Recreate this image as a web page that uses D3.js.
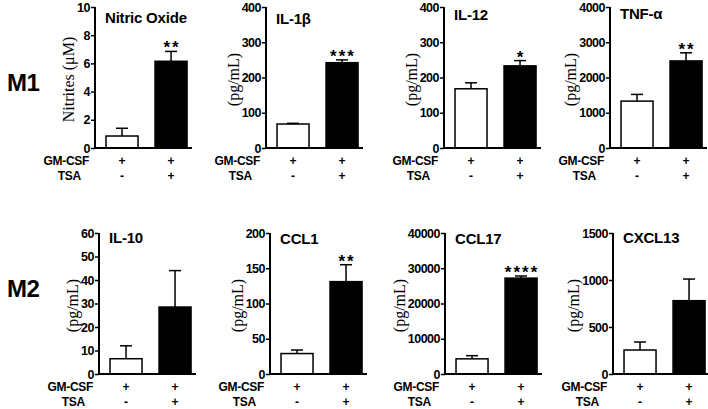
<!DOCTYPE html>
<html><head><meta charset="utf-8">
<script src="https://cdn.jsdelivr.net/npm/d3@7"></script>
<style>body{margin:0;background:#fff}svg{display:block}</style>
</head><body>
<svg id="c" width="708" height="409"></svg>
<script>
// ---- data ----
const rowLabels = ["M1", "M2"];
const titles = ["Nitric Oxide", "IL-1β", "IL-12", "TNF-α", "IL-10", "CCL1", "CCL17", "CXCL13"];
const yLabels = ["Nitrites (μM)", "(pg/mL)", "(pg/mL)", "(pg/mL)", "(pg/mL)", "(pg/mL)", "(pg/mL)", "(pg/mL)"];
const groups = ["ctrl", "tsa"];
const gmcsfSigns = ["+", "+"];
const tsaSigns = ["-", "+"];
const means = [[0.85, 6.15], [68, 242], [168, 233], [1330, 2470], [6.5, 28.5], [29, 131], [4300, 27200], [255, 780]];
const errors = [[0.55, 0.7], [2, 8], [17, 15], [190, 230], [5.5, 15.5], [5, 24], [900, 600], [85, 230]];
const stars = ["**", "***", "*", "**", "", "**", "****", ""];
const yMax = [10, 400, 400, 4000, 60, 200, 40000, 1500];
const tickStep = [2, 100, 100, 1000, 10, 50, 10000, 500];

// ---- layout ----
const axisX = [95, 266, 444, 610, 99, 270, 445, 613];
const titleDy = [16, 17, 13, 12, 10, 11, 11, 10];
const rowTop = [7, 233], rowBottom = [148, 374];
const axisLen = 97;
const sans = "'Liberation Sans', Arial, sans-serif";
const serif = "'Liberation Serif', 'Times New Roman', serif";

const svg = d3.select("#c");

rowLabels.forEach((t, r) => {
  svg.append("text").attr("x", 7).attr("y", r === 0 ? 91 : 297)
    .style("font-family", sans).style("font-weight", "bold").style("font-size", "24px")
    .attr("letter-spacing", -0.5).text(t);
});

titles.forEach((title, i) => {
  const r = i < 4 ? 0 : 1;
  const x0 = axisX[i];
  const g = svg.append("g");
  const y = d3.scaleLinear().domain([0, yMax[i]]).range([rowBottom[r], rowTop[r]]);
  const x = d3.scaleBand().domain(groups).range([x0, x0 + axisLen])
    .paddingInner(0.347).paddingOuter(0.163).align(0.69);

  // bars
  g.selectAll("rect.bar").data(groups).join("rect")
    .attr("x", d => x(d)).attr("width", x.bandwidth())
    .attr("y", (d, k) => y(means[i][k]))
    .attr("height", (d, k) => y(0) - y(means[i][k]))
    .attr("fill", (d, k) => k === 0 ? "#fff" : "#000")
    .attr("stroke", "#000").attr("stroke-width", 1.5);

  // error bars (upper only)
  groups.forEach((d, k) => {
    const cx = x(d) + x.bandwidth() / 2;
    const yt = y(means[i][k] + errors[i][k]);
    g.append("line").attr("x1", cx).attr("x2", cx)
      .attr("y1", y(means[i][k])).attr("y2", yt)
      .attr("stroke", "#000").attr("stroke-width", 1.5);
    g.append("line").attr("x1", cx - 6).attr("x2", cx + 6)
      .attr("y1", yt).attr("y2", yt)
      .attr("stroke", "#000").attr("stroke-width", 1.5);
  });

  // significance
  if (stars[i]) {
    const cx = x("tsa") + x.bandwidth() / 2;
    g.append("text").attr("x", cx + 1).attr("y", y(means[i][1] + errors[i][1]) + 2)
      .attr("text-anchor", "middle").style("font-family", sans).style("font-weight", "bold")
      .style("font-size", "17px").attr("letter-spacing", 2).text(stars[i]);
  }

  // y axis
  const ticks = d3.range(0, yMax[i] + tickStep[i] / 2, tickStep[i]);
  const ay = g.append("g").attr("transform", `translate(${x0},0)`)
    .call(d3.axisLeft(y).tickValues(ticks).tickFormat(d3.format("d")).tickSize(4).tickPadding(1));
  ay.select(".domain").attr("stroke-width", 2).attr("d", `M0,${rowTop[r]}V${rowBottom[r]}`);
  ay.selectAll(".tick line").attr("stroke-width", 1.5);
  ay.selectAll(".tick text").style("font-family", sans).style("font-weight", "bold")
    .style("font-size", "12.5px").attr("letter-spacing", -0.5).attr("fill", "#000");

  // x axis line
  g.append("line").attr("x1", x0 - 1).attr("x2", x0 + axisLen)
    .attr("y1", rowBottom[r]).attr("y2", rowBottom[r])
    .attr("stroke", "#000").attr("stroke-width", 2);

  // y label
  const bw = ay.node().getBBox().width;
  const ym = (rowTop[r] + rowBottom[r]) / 2 + 2;
  g.append("text").attr("transform", `translate(${x0 - bw - 3},${ym}) rotate(-90)`)
    .attr("text-anchor", "middle").style("font-family", serif).style("font-size", "16px")
    .text(yLabels[i]);

  // title
  g.append("text").attr("x", x0 + 10).attr("y", rowTop[r] + titleDy[i])
    .style("font-family", sans).style("font-weight", "bold").style("font-size", "15px")
    .attr("letter-spacing", -0.2).text(title);

  // treatment rows
  const gm = g.append("text").attr("x", x0 - 6).attr("y", rowBottom[r] + 17)
    .attr("text-anchor", "end").style("font-family", sans).style("font-weight", "bold")
    .style("font-size", "12px").attr("letter-spacing", -0.3).text("GM-CSF");
  const gb = gm.node().getBBox();
  g.append("text").attr("x", gb.x + gb.width / 2 + 3).attr("y", rowBottom[r] + 32)
    .attr("text-anchor", "middle").style("font-family", sans).style("font-weight", "bold")
    .style("font-size", "12px").attr("letter-spacing", -0.3).text("TSA");
  groups.forEach((d, k) => {
    const cx = x(d) + x.bandwidth() / 2;
    g.append("text").attr("x", cx).attr("y", rowBottom[r] + 17).attr("text-anchor", "middle")
      .style("font-family", sans).style("font-weight", "bold").style("font-size", "12px").text(gmcsfSigns[k]);
    g.append("text").attr("x", cx).attr("y", rowBottom[r] + 32).attr("text-anchor", "middle")
      .style("font-family", sans).style("font-weight", "bold").style("font-size", "12px").text(tsaSigns[k]);
  });
});
</script>
</body></html>
